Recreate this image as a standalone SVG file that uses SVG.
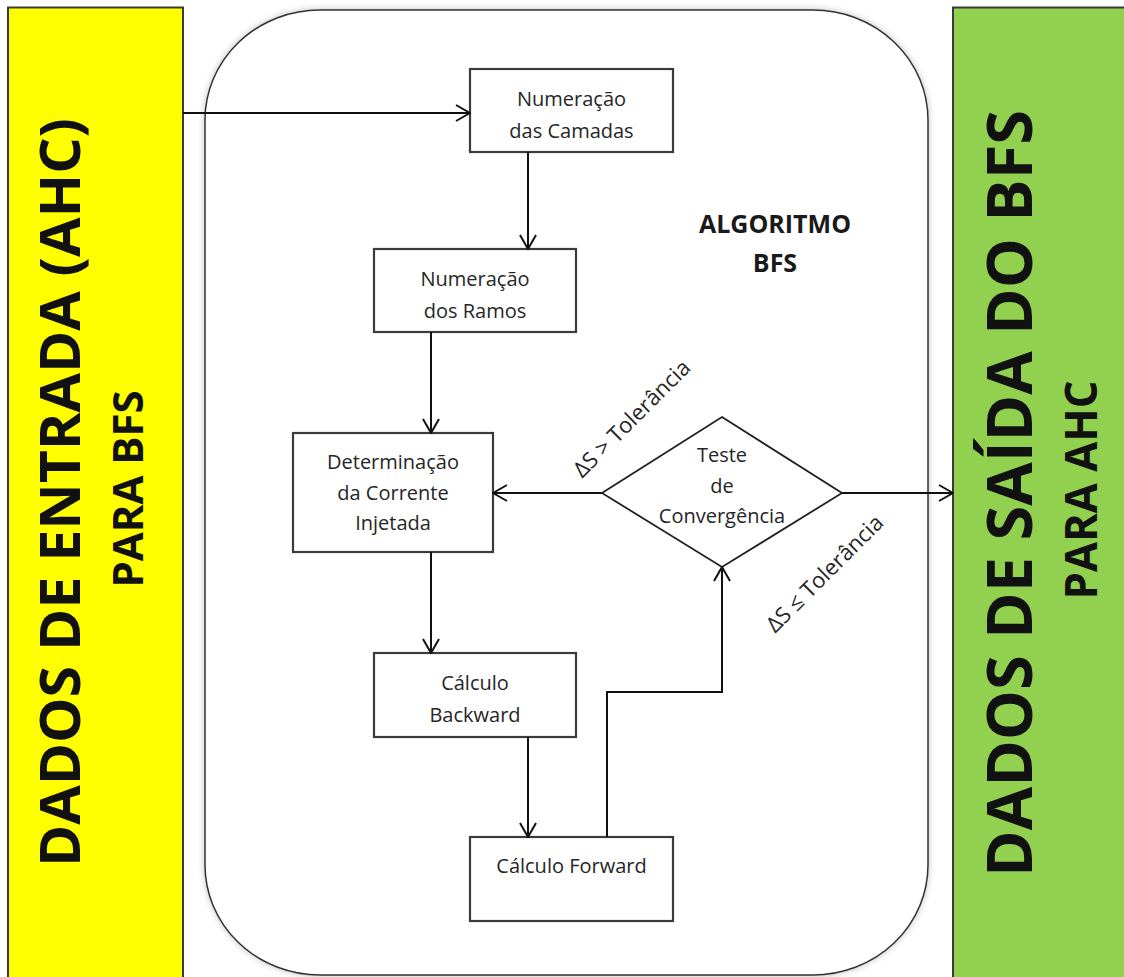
<svg xmlns="http://www.w3.org/2000/svg" width="1124" height="977" viewBox="0 0 1124 977">
  <defs>
    <style>
      .side { stroke: #3a3a3a; stroke-width: 2; }
      .title { font-family: "Open Sans", "Liberation Sans", sans-serif; font-weight: 700; fill: #111; }
      .box { fill: #fff; stroke: #3c3c3c; stroke-width: 2.2; }
      .lbl { font-family: "Open Sans", "Liberation Sans", sans-serif; font-size: 20px; fill: #262626; text-anchor: middle; }
      .tag { font-family: "Open Sans", "Liberation Sans", sans-serif; font-size: 22px; fill: #262626; text-anchor: middle; }
      .bold { font-family: "Open Sans", "Liberation Sans", sans-serif; font-weight: 700; font-size: 25px; fill: #1a1a1a; text-anchor: middle; }
      .wire { fill: none; stroke: #111; stroke-width: 2; }
    </style>
    <marker id="arrow" viewBox="0 0 16 18" refX="15" refY="9" markerWidth="16" markerHeight="18" markerUnits="userSpaceOnUse" orient="auto">
      <path d="M1,1 L15,9 L1,17" fill="none" stroke="#111" stroke-width="2"/>
    </marker>
    <filter id="soft" x="-5%" y="-5%" width="110%" height="110%">
      <feDropShadow dx="0" dy="0" stdDeviation="3" flood-color="#000" flood-opacity="0.25"/>
    </filter>
  </defs>

  <!-- input panel -->
  <g id="entrada">
    <rect class="side" x="8" y="7.5" width="175" height="975" fill="#FFFF00"/>
    <text class="title" font-size="56" transform="translate(80,492.5) rotate(-90)" text-anchor="middle" textLength="749" lengthAdjust="spacingAndGlyphs">DADOS DE ENTRADA (AHC)</text>
    <text class="title" font-size="41" transform="translate(143,489) rotate(-90)" text-anchor="middle" textLength="197" lengthAdjust="spacingAndGlyphs">PARA BFS</text>
  </g>

  <!-- output panel -->
  <g id="saida">
    <rect class="side" x="953" y="7.5" width="180" height="975" fill="#92D050"/>
    <text class="title" font-size="63" transform="translate(1032,493.5) rotate(-90)" text-anchor="middle" textLength="767" lengthAdjust="spacingAndGlyphs">DADOS DE SAÍDA DO BFS</text>
    <text class="title" font-size="44" transform="translate(1097,490) rotate(-90)" text-anchor="middle" textLength="219" lengthAdjust="spacingAndGlyphs">PARA AHC</text>
  </g>

  <!-- algorithm container -->
  <g id="algoritmo">
    <rect x="205" y="10" width="723" height="965" rx="115" ry="110" fill="#fff" stroke="#333" stroke-width="1.5" filter="url(#soft)"/>
    <text class="bold" x="775" y="233">ALGORITMO</text>
    <text class="bold" x="775" y="272">BFS</text>
  </g>

  <g id="camadas">
    <rect class="box" x="470" y="69" width="203" height="83"/>
    <text class="lbl" x="571.5" y="106">Numeração</text>
    <text class="lbl" x="571.5" y="138">das Camadas</text>
  </g>

  <g id="ramos">
    <rect class="box" x="374" y="249" width="202" height="83"/>
    <text class="lbl" x="475" y="286">Numeração</text>
    <text class="lbl" x="475" y="318">dos Ramos</text>
  </g>

  <g id="corrente">
    <rect class="box" x="293" y="433" width="200" height="119"/>
    <text class="lbl" x="393" y="469">Determinação</text>
    <text class="lbl" x="393" y="500">da Corrente</text>
    <text class="lbl" x="393" y="530">Injetada</text>
  </g>

  <g id="backward">
    <rect class="box" x="374" y="653" width="202" height="84"/>
    <text class="lbl" x="475" y="690">Cálculo</text>
    <text class="lbl" x="475" y="722">Backward</text>
  </g>

  <g id="forward">
    <rect class="box" x="470" y="837" width="203" height="84"/>
    <text class="lbl" x="571.5" y="873">Cálculo Forward</text>
  </g>

  <g id="convergencia">
    <polygon points="722,417 842,493 722,567 602,493" fill="#fff" stroke="#222" stroke-width="1.8"/>
    <text class="lbl" x="722" y="462">Teste</text>
    <text class="lbl" x="722" y="493">de</text>
    <text class="lbl" x="722" y="523">Convergência</text>
  </g>

  <!-- connectors -->
  <g id="conectores">
    <line class="wire" x1="183" y1="113" x2="470" y2="113" marker-end="url(#arrow)"/>
    <line class="wire" x1="528" y1="152" x2="528" y2="249" marker-end="url(#arrow)"/>
    <line class="wire" x1="431" y1="332" x2="431" y2="433" marker-end="url(#arrow)"/>
    <line class="wire" x1="431" y1="552" x2="431" y2="653" marker-end="url(#arrow)"/>
    <line class="wire" x1="528" y1="737" x2="528" y2="837" marker-end="url(#arrow)"/>
    <polyline class="wire" points="607,837 607,692 722,692 722,567" marker-end="url(#arrow)"/>
    <line class="wire" x1="602" y1="493" x2="493" y2="493" marker-end="url(#arrow)"/>
    <line class="wire" x1="842" y1="493" x2="953" y2="493" marker-end="url(#arrow)"/>
    <text class="tag" transform="translate(637,424) rotate(-45)">ΔS &gt; Tolerância</text>
    <text class="tag" transform="translate(830,579) rotate(-45)">ΔS ≤ Tolerância</text>
  </g>
</svg>
